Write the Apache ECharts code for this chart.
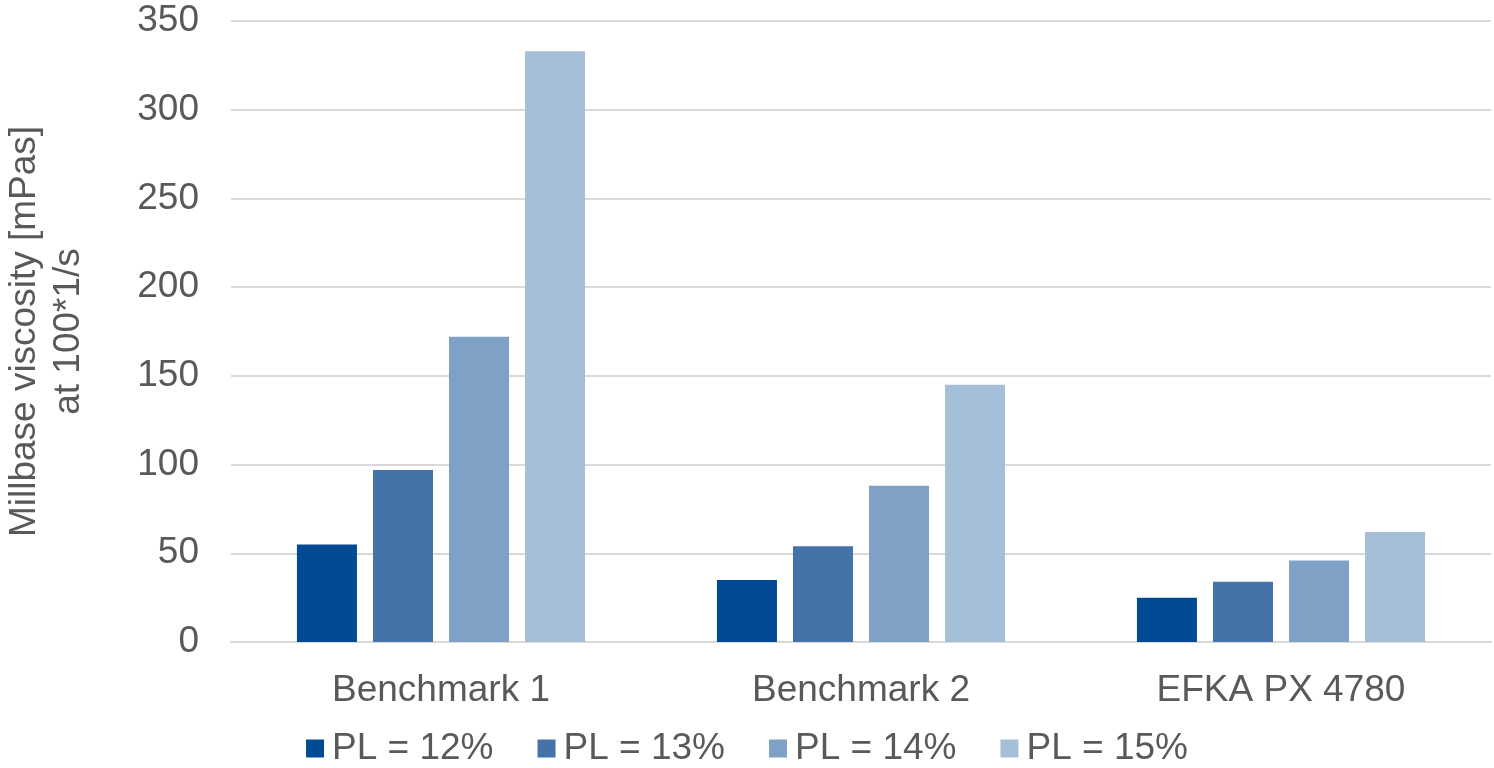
<!DOCTYPE html>
<html>
<head>
<meta charset="utf-8">
<script src="https://cdn.jsdelivr.net/npm/echarts@6/dist/echarts.min.js"></script>
<style>
  html, body { margin: 0; padding: 0; background: #fff; }
  #chart { width: 1494px; height: 768px; }
</style>
</head>
<body>
<div id="chart"></div>
<script>
var categories = ['Benchmark 1', 'Benchmark 2', 'EFKA PX 4780'];
var seriesNames = ['PL = 12%', 'PL = 13%', 'PL = 14%', 'PL = 15%'];
var pl12 = [55, 35, 25];
var pl13 = [97, 54, 34];
var pl14 = [172, 88, 46];
var pl15 = [333, 145, 62];
var colors = ['#004B93', '#4473AA', '#7FA1C6', '#A6BFD9'];

var myChart = echarts.init(document.getElementById('chart'));
var textColor = '#595959';
var font = 'Liberation Sans, Arial, sans-serif';

var values = [pl12, pl13, pl14, pl15];
var series = [];
for (var i = 0; i < values.length; i++) {
    series.push({
        name: seriesNames[i],
        type: 'bar',
        data: values[i],
        barGap: '26.7%',
        barCategoryGap: '31.4%',
        itemStyle: { color: colors[i] }
    });
}

var option = {
    animation: false,
    color: colors,
    textStyle: { fontFamily: font },
    grid: {
        left: 231,
        right: 3,
        top: 21,
        bottom: 126,
        outerBoundsMode: 'none',
        containLabel: false
    },
    legend: {
        bottom: -4,
        left: 'center',
        itemWidth: 18,
        itemHeight: 18,
        itemGap: 44,
        icon: 'rect',
        textStyle: { color: textColor, fontSize: 37, fontFamily: font, padding: [0, 0, 0, 3] },
        data: seriesNames
    },
    xAxis: {
        type: 'category',
        data: categories,
        axisLine: { lineStyle: { color: '#D9D9D9', width: 2 } },
        axisTick: { show: false },
        axisLabel: { color: textColor, fontSize: 37, margin: 30, fontFamily: font }
    },
    yAxis: {
        type: 'value',
        min: 0,
        max: 350,
        interval: 50,
        name: 'Millbase viscosity [mPas]\nat 100*1/s',
        nameLocation: 'middle',
        nameGap: 140,
        nameTextStyle: { color: textColor, fontSize: 37, lineHeight: 44, fontFamily: font, align: 'center' },
        axisLine: { show: false },
        axisTick: { show: false },
        splitLine: { lineStyle: { color: '#D9D9D9', width: 2 } },
        axisLabel: { color: textColor, fontSize: 37, margin: 32, fontFamily: font }
    },
    series: series
};

myChart.setOption(option);
</script>
</body>
</html>
